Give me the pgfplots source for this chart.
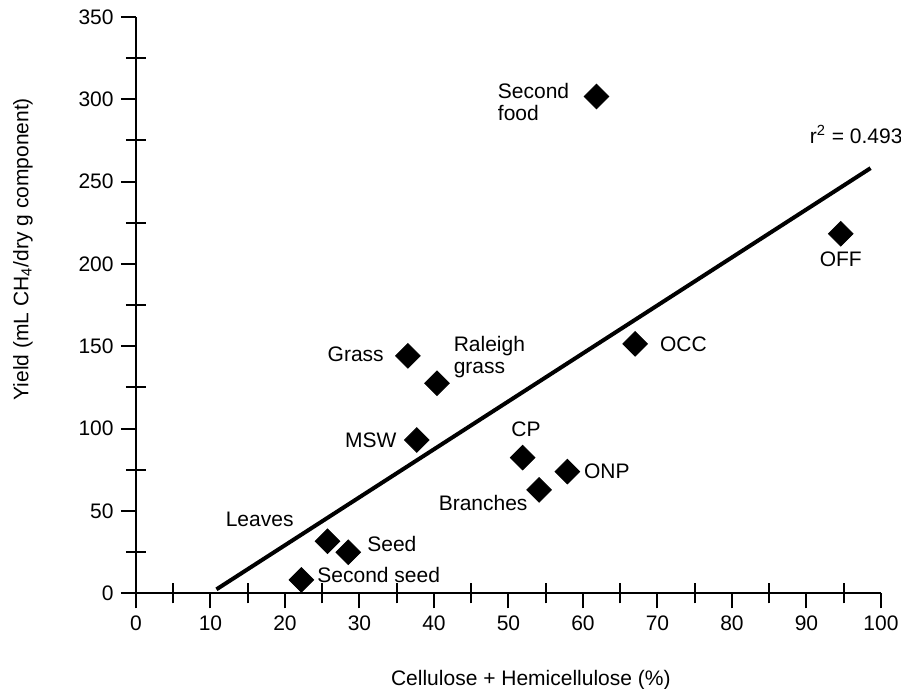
\documentclass[border=0pt]{standalone}
\usepackage{fontspec}
\setmainfont{Liberation Sans}
\usepackage{pgfplots}
\pgfplotsset{compat=1.18}
\begin{document}
\fontsize{10.5}{10.8}\selectfont
\begin{tikzpicture}
\useasboundingbox (-68pt,-47.85pt) rectangle (382.5pt,296.65pt);
\begin{axis}[
  at={(0,0)}, anchor=south west,
  scale only axis, width=372.5pt, height=288.15pt,
  xmin=0, xmax=100, ymin=0, ymax=350,
  axis lines*=left,
  axis line style={line width=1pt, black},
  clip=false,
  xtick={0,10,...,100}, ytick={0,50,...,350},
  tick align=outside, major tick length=7.5pt,
  tick style={line width=1pt, black},
  extra x ticks={5,15,...,95}, extra x tick labels={},
  extra y ticks={25,75,...,325}, extra y tick labels={},
  extra x tick style={tick align=center, major tick length=10pt},
  extra y tick style={tick align=center, major tick length=10pt},
  /pgf/number format/assume math mode=true,
  tick label style={font=\fontsize{10.5}{12}\selectfont},
  xlabel={Cellulose + Hemicellulose (\%)},
  ylabel={Yield (mL CH\textsubscript{4}/dry g component)},
  xlabel style={at={([yshift=-45.9pt]axis description cs:0.53,0)}, anchor=base},
  ylabel style={at={([xshift=-53.85pt]axis description cs:0,0.597)}, anchor=base},
]
\addplot[black, line width=2pt, no markers] coordinates {(10.8,2.4) (98.6,258.2)};
\addplot[only marks, mark=square*, mark size=4.35pt, mark options={rotate=45, fill=black, draw=black}] coordinates {
(22.2,8.1) (25.7,31.6) (28.5,24.9) (36.5,144.2) (37.7,93.1) (40.4,127.6)
(51.9,82.4) (54.1,62.8) (57.9,73.9) (61.8,301.7) (67.0,151.5) (94.6,218.3)
};
\begin{scope}[every node/.style={inner sep=0pt}]
\node[anchor=east, align=left] at (axis cs:58.2,298.5) {Second\\food};
\node[anchor=base west, overlay] at (axis cs:90.4,273.4) {r\textsuperscript{2} = 0.493};
\node[anchor=center] at (axis cs:94.6,202.9) {OFF};
\node[anchor=west] at (axis cs:70.3,151.5) {OCC};
\node[anchor=east] at (axis cs:33.3,145.2) {Grass};
\node[anchor=west, align=left] at (axis cs:42.6,143.3) {Raleigh\\grass};
\node[anchor=east] at (axis cs:35.0,92.7) {MSW};
\node[anchor=center] at (axis cs:52.35,99.6) {CP};
\node[anchor=west] at (axis cs:60.1,74.3) {ONP};
\node[anchor=east] at (axis cs:52.6,54.7) {Branches};
\node[anchor=east] at (axis cs:21.2,44.8) {Leaves};
\node[anchor=west] at (axis cs:31.0,29.8) {Seed};
\node[anchor=west] at (axis cs:24.3,11.1) {Second seed};
\end{scope}
\end{axis}
\end{tikzpicture}
\end{document}
